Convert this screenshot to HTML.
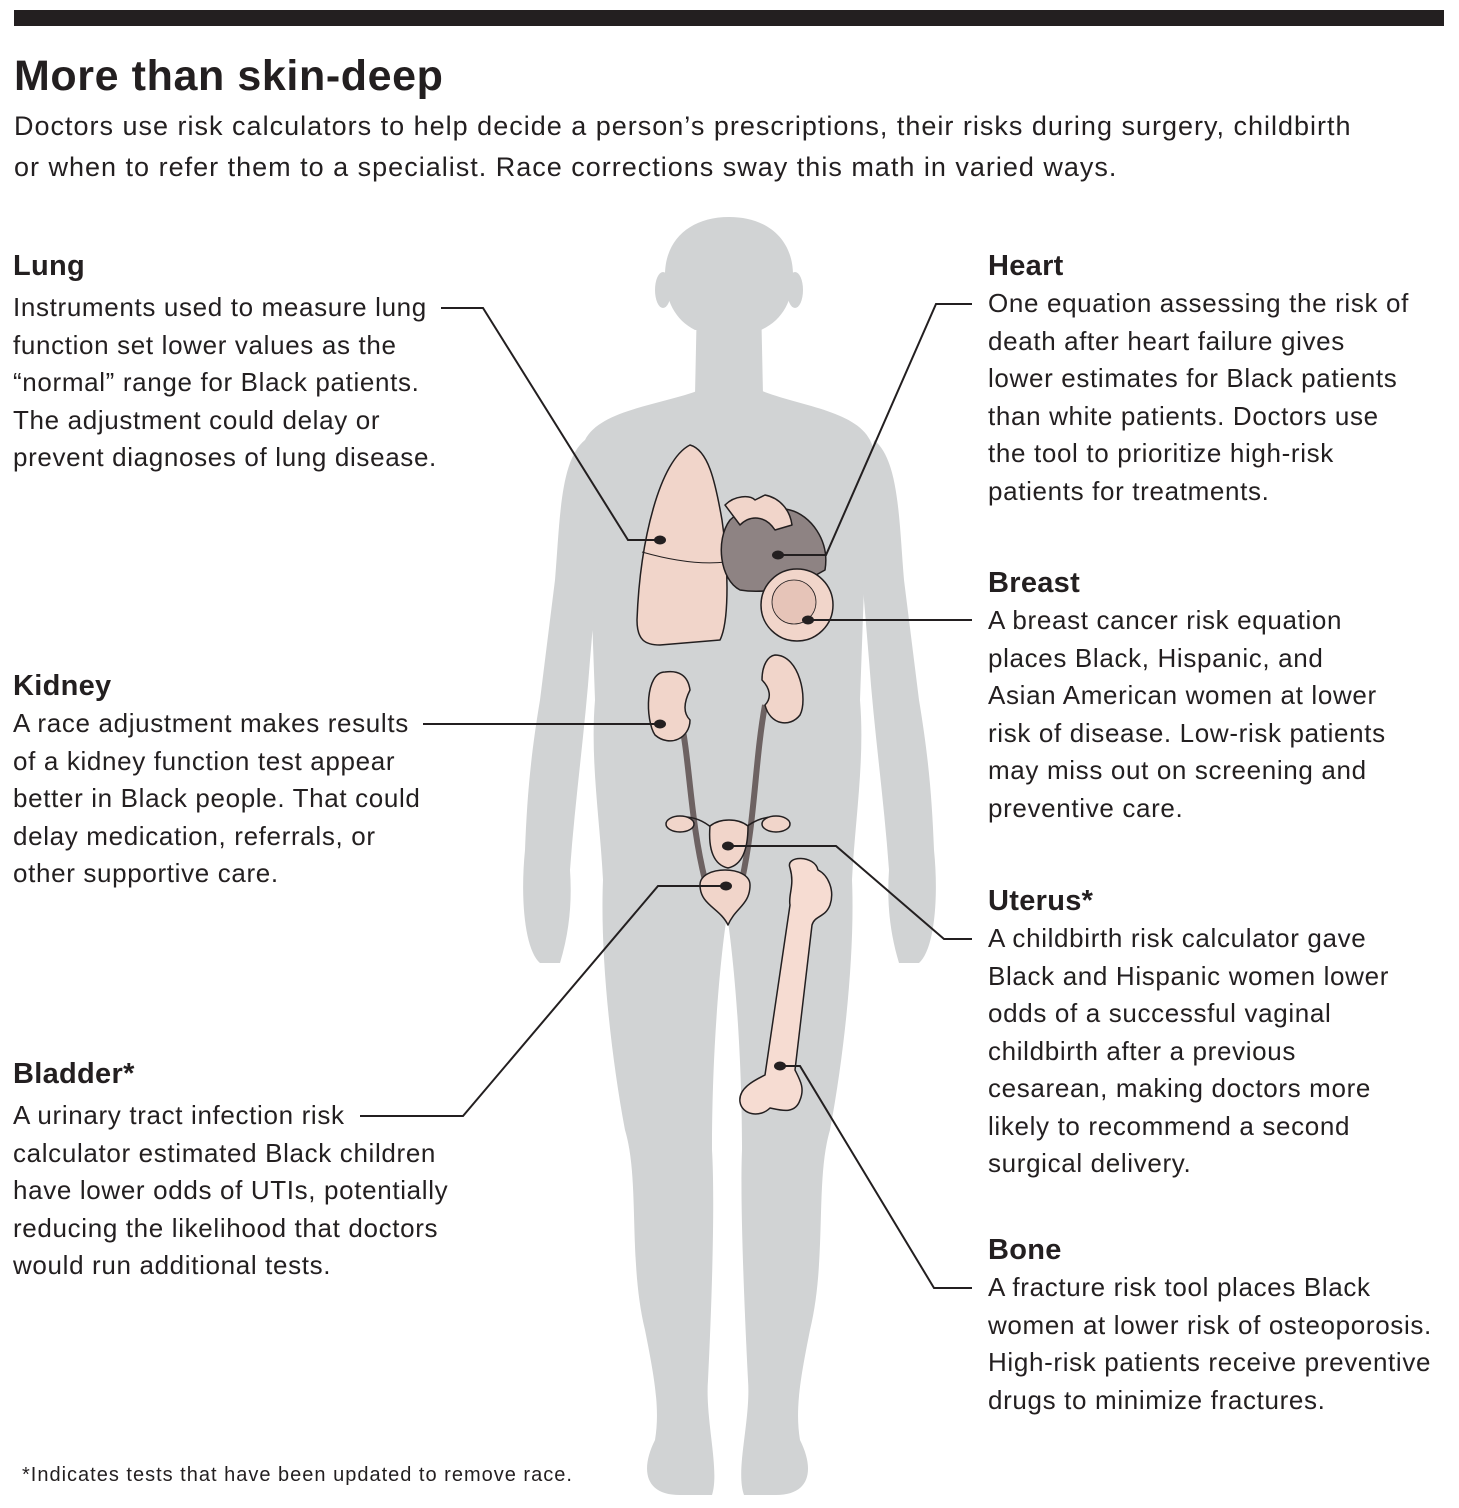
<!DOCTYPE html>
<html><head><meta charset="utf-8"><style>
html,body{margin:0;padding:0;background:#fff}
body{width:1459px;height:1508px;position:relative;overflow:hidden;font-family:"Liberation Sans",sans-serif;color:#231f20}
.t{position:absolute;white-space:nowrap;font-size:26px;line-height:37.5px;letter-spacing:0.65px}
.h{position:absolute;white-space:nowrap;font-size:29px;font-weight:bold;line-height:36px;letter-spacing:0.3px}
svg{position:absolute;left:0;top:0}
</style></head><body>
<svg width="1459" height="1508" viewBox="0 0 1459 1508">
<rect x="14" y="10" width="1430" height="16" fill="#231f20"/>
<g fill="#d1d3d4">
<path d="M729 217 C690 217 665 240 665 275 C665 300 675 320 695 330 L697 330 L729 340 L761 330 C783 320 793 300 793 275 C793 240 768 217 729 217 Z"/>
<ellipse cx="663" cy="290" rx="8" ry="18"/><ellipse cx="795" cy="290" rx="8" ry="18"/>
<path d="M697 300 L761 300 L763 395 L695 395 Z"/>
<path d="M700 390 C660 405 600 410 585 440 C570 470 572 520 590 560 L595 700 C590 760 600 820 603 880 C600 950 610 1050 625 1130 C640 1180 628 1260 645 1330 C655 1380 660 1410 655 1440 C640 1470 645 1495 680 1495 L712 1495 C720 1470 705 1420 708 1380 C712 1300 715 1200 712 1150 C712 1050 720 960 727 915 C734 960 742 1050 742 1150 C740 1200 744 1300 748 1380 C751 1420 735 1470 744 1495 L776 1495 C810 1495 815 1470 800 1440 C795 1410 800 1380 810 1330 C827 1260 815 1180 830 1130 C845 1050 855 950 852 880 C855 820 865 760 860 700 L865 560 C883 520 885 470 870 440 C855 410 795 405 760 390 Z"/>
<path id="arm" d="M585 440 C560 460 560 520 555 580 L540 700 C530 760 527 800 525 850 C520 900 525 950 540 963 L560 963 C570 930 572 900 570 870 C575 800 585 730 590 660 L600 540 Z"/>
<use href="#arm" transform="translate(1459,0) scale(-1,1)"/>
</g>
<g stroke="#231f20" stroke-width="1.5" stroke-linejoin="round">
<path d="M680 715 C690 760 690 820 705 880" fill="none" stroke="#6d6262" stroke-width="6"/>
<path d="M765 705 C755 760 755 820 742 880" fill="none" stroke="#6d6262" stroke-width="6"/>
<path d="M690 445 C660 460 640 540 637 620 C637 640 645 645 660 645 L720 640 C730 620 728 560 722 520 C715 480 708 450 690 445 Z" fill="#f1d5ca"/>
<path d="M642 552 C670 560 700 565 726 562" fill="none" stroke-width="1"/>
<path d="M730 520 C715 540 720 580 740 590 C770 595 800 585 825 570 C830 540 810 515 790 510 C770 505 745 505 730 520 Z" fill="#8e8383"/>
<path d="M725 505 C735 495 750 495 755 500 L765 495 C780 498 790 510 792 525 L775 530 C765 515 750 515 740 525 Z" fill="#f1d5ca"/>
<circle cx="797" cy="605" r="36" fill="#f1d5ca"/>
<circle cx="794" cy="602" r="22" fill="#e6c4b8" stroke-width="0.8"/>
<path d="M665 672 C645 672 645 720 655 735 C670 748 690 738 690 720 C682 712 685 700 690 690 C688 675 678 670 665 672 Z" fill="#f1d5ca"/>
<path d="M775 655 C800 655 808 700 800 715 C790 728 770 725 765 705 C772 698 770 688 762 680 C762 665 768 656 775 655 Z" fill="#f1d5ca"/>
<path d="M668 820 C690 812 705 822 712 828 M788 820 C768 812 752 822 745 828" fill="none"/>
<ellipse cx="680" cy="824" rx="14" ry="8" fill="#f1d5ca"/><ellipse cx="776" cy="824" rx="14" ry="8" fill="#f1d5ca"/>
<path d="M710 826 C720 818 738 818 748 826 C748 850 742 865 728 868 C714 865 708 850 710 826 Z" fill="#f1d5ca"/>
<path d="M700 885 C700 865 750 865 750 885 C750 905 735 908 728 925 C720 908 700 905 700 885 Z" fill="#f1d5ca"/>
<path d="M790 868 C785 855 815 855 818 870 C828 875 835 890 830 905 C825 918 815 915 812 925 L795 1070 C800 1080 805 1088 800 1100 C795 1115 780 1110 770 1108 C760 1118 742 1115 740 1102 C738 1088 755 1080 765 1075 L790 905 C788 895 795 885 790 868 Z" fill="#f6dcd2"/>
</g>
<g fill="none" stroke="#231f20" stroke-width="2">
<polyline points="441,308 483,308 628,540 660,540"/>
<polyline points="972,304 936,304 826,555 778,555"/>
<polyline points="972,620 808,620"/>
<polyline points="423,724 660,724"/>
<polyline points="972,939 944,939 836,846 728,846"/>
<polyline points="360,1116 463,1116 658,886 726,886"/>
<polyline points="972,1288 934,1288 800,1066 780,1066"/>
</g>
<g fill="#231f20">
<ellipse cx="660" cy="540" rx="6" ry="4.5"/><ellipse cx="778" cy="555" rx="6" ry="4.5"/>
<ellipse cx="808" cy="620" rx="6" ry="4.5"/><ellipse cx="660" cy="724" rx="6" ry="4.5"/>
<ellipse cx="728" cy="846" rx="6" ry="4.5"/><ellipse cx="726" cy="886" rx="6" ry="4.5"/>
<ellipse cx="780" cy="1066" rx="6" ry="4.5"/>
</g>
</svg>
<div class="h" style="left:14px;top:50px;font-size:43px;line-height:52px;letter-spacing:0.6px">More than skin-deep</div>
<div class="t" style="left:14px;top:106px;font-size:27px;line-height:41px;letter-spacing:1.0px">Doctors use risk calculators to help decide a person’s prescriptions, their risks during surgery, childbirth<br>or when to refer them to a specialist. Race corrections sway this math in varied ways.</div>

<div class="h" style="left:13px;top:248px">Lung</div>
<div class="t" style="left:13px;top:289px">Instruments used to measure lung<br>function set lower values as the<br>“normal” range for Black patients.<br>The adjustment could delay or<br>prevent diagnoses of lung disease.</div>

<div class="h" style="left:988px;top:248px">Heart</div>
<div class="t" style="left:988px;top:285px">One equation assessing the risk of<br>death after heart failure gives<br>lower estimates for Black patients<br>than white patients. Doctors use<br>the tool to prioritize high-risk<br>patients for treatments.</div>

<div class="h" style="left:988px;top:565px">Breast</div>
<div class="t" style="left:988px;top:602px">A breast cancer risk equation<br>places Black, Hispanic, and<br>Asian American women at lower<br>risk of disease. Low-risk patients<br>may miss out on screening and<br>preventive care.</div>

<div class="h" style="left:13px;top:668px">Kidney</div>
<div class="t" style="left:13px;top:705px">A race adjustment makes results<br>of a kidney function test appear<br>better in Black people. That could<br>delay medication, referrals, or<br>other supportive care.</div>

<div class="h" style="left:988px;top:883px">Uterus*</div>
<div class="t" style="left:988px;top:920px">A childbirth risk calculator gave<br>Black and Hispanic women lower<br>odds of a successful vaginal<br>childbirth after a previous<br>cesarean, making doctors more<br>likely to recommend a second<br>surgical delivery.</div>

<div class="h" style="left:13px;top:1056px">Bladder*</div>
<div class="t" style="left:13px;top:1097px">A urinary tract infection risk<br>calculator estimated Black children<br>have lower odds of UTIs, potentially<br>reducing the likelihood that doctors<br>would run additional tests.</div>

<div class="h" style="left:988px;top:1232px">Bone</div>
<div class="t" style="left:988px;top:1269px">A fracture risk tool places Black<br>women at lower risk of osteoporosis.<br>High-risk patients receive preventive<br>drugs to minimize fractures.</div>

<div class="t" style="left:22px;top:1462px;font-size:20px;line-height:26px;letter-spacing:1.0px">*Indicates tests that have been updated to remove race.</div>
</body></html>
